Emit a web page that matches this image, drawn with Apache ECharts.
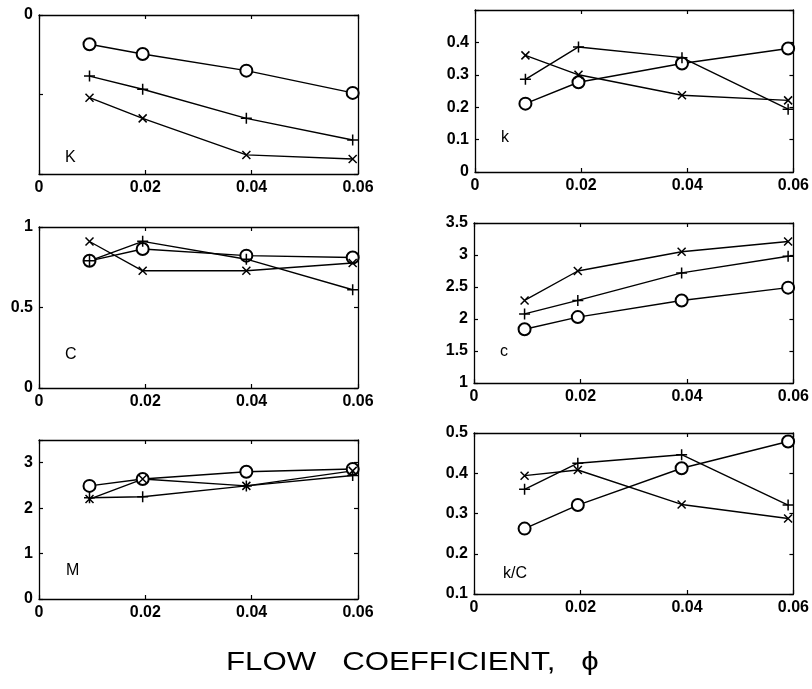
<!DOCTYPE html>
<html>
<head>
<meta charset="utf-8">
<script src="https://cdn.jsdelivr.net/npm/echarts@6/dist/echarts.min.js"></script>
<style>
  html, body { margin: 0; padding: 0; background: #fff; }
  #main { width: 812px; height: 689px; }
</style>
</head>
<body>
<div id="main"></div>
<script>
// flow coefficient values (x positions of the measurements)
const phi = [0.0095, 0.0195, 0.039, 0.059];
const xTicks = ["0", "0.02", "0.04", "0.06"];

// K
const K_o = [-0.184, -0.245, -0.35, -0.49];
const K_plus = [-0.384, -0.467, -0.65, -0.786];
const K_x = [-0.52, -0.65, -0.88, -0.906];
// k
const k_o = [0.211, 0.277, 0.335, 0.381];
const k_plus = [0.286, 0.386, 0.353, 0.194];
const k_x = [0.36, 0.30, 0.237, 0.221];
// C
const C_o = [0.79, 0.863, 0.822, 0.811];
const C_plus = [0.79, 0.911, 0.80, 0.61];
const C_x = [0.91, 0.728, 0.728, 0.776];
// c
const c_o = [1.84, 2.03, 2.29, 2.49];
const c_plus = [2.08, 2.29, 2.72, 2.98];
const c_x = [2.29, 2.75, 3.05, 3.21];
// M
const M_o = [2.49, 2.64, 2.80, 2.86];
const M_plus = [2.23, 2.25, 2.49, 2.72];
const M_x = [2.20, 2.64, 2.49, 2.82];
// k/C
const kC_o = [0.2625, 0.321, 0.4125, 0.479];
const kC_plus = [0.36, 0.425, 0.446, 0.321];
const kC_x = [0.394, 0.408, 0.3225, 0.2875];

const panels = [
  { label: "K", grid: { left: 39, top: 15, width: 319, height: 159 }, min: -1, max: 0, interval: 0.5,
    show: v => v === 0 ? "0" : "", data: [K_o, K_plus, K_x] },
  { label: "k", grid: { left: 475, top: 10, width: 320, height: 162 }, min: 0, max: 0.5, interval: 0.1,
    show: v => v > 0.45 ? "" : (v === 0 ? "0" : v.toFixed(1)), data: [k_o, k_plus, k_x] },
  { label: "C", grid: { left: 39, top: 227, width: 319, height: 161 }, min: 0, max: 1, interval: 0.5,
    show: v => String(v), data: [C_o, C_plus, C_x] },
  { label: "c", grid: { left: 474, top: 223, width: 321, height: 160 }, min: 1, max: 3.5, interval: 0.5,
    show: v => String(v), data: [c_o, c_plus, c_x] },
  { label: "M", grid: { left: 39, top: 440, width: 319, height: 159 }, min: 0, max: 3.5, interval: 1,
    show: v => Number.isInteger(v) ? String(v) : "", data: [M_o, M_plus, M_x] },
  { label: "k/C", grid: { left: 474, top: 433, width: 321, height: 161 }, min: 0.1, max: 0.5, interval: 0.1,
    show: v => v.toFixed(1), data: [kC_o, kC_plus, kC_x] }
];

const labelPos = [[65, 150], [501, 130], [65, 347], [500, 344], [66, 563], [503, 566]];

const font = { color: "#000", fontFamily: "Liberation Sans, Arial, sans-serif", fontSize: 16, fontWeight: "bold" };

const symPlus = "path://M0,5 L10,5 M5,0 L5,10";
const symCross = "path://M0,0 L10,10 M10,0 L0,10";

let grid = [], xAxis = [], yAxis = [], series = [], graphic = [];

panels.forEach((p, i) => {
  grid.push(Object.assign({ show: false, containLabel: false }, p.grid));
  const axLine = { show: true, onZero: false, lineStyle: { color: "#000", width: 1.3 } };
  const tick = { show: true, inside: true, length: 4, lineStyle: { color: "#000", width: 1.2 } };
  xAxis.push({
    type: "value", gridIndex: i, min: 0, max: 0.06, interval: 0.02, position: "bottom",
    axisLine: axLine, axisTick: tick, splitLine: { show: false },
    axisLabel: Object.assign({ margin: 6, formatter: v => xTicks[Math.round(v / 0.02)] }, font)
  });
  xAxis.push({
    type: "value", gridIndex: i, min: 0, max: 0.06, interval: 0.02, position: "top",
    axisLine: axLine, axisTick: tick, splitLine: { show: false }, axisLabel: { show: false }
  });
  yAxis.push({
    type: "value", gridIndex: i, min: p.min, max: p.max, interval: p.interval, position: "left",
    axisLine: axLine, axisTick: tick, splitLine: { show: false },
    axisLabel: Object.assign({ margin: 6, formatter: p.show }, font)
  });
  yAxis.push({
    type: "value", gridIndex: i, min: p.min, max: p.max, interval: p.interval, position: "right",
    axisLine: axLine, axisTick: tick, splitLine: { show: false }, axisLabel: { show: false }
  });
  const syms = [
    { symbol: "emptyCircle", size: 12 },
    { symbol: symPlus, size: 11 },
    { symbol: symCross, size: 8 }
  ];
  p.data.forEach((vals, j) => {
    series.push({
      type: "line", xAxisIndex: 2 * i, yAxisIndex: 2 * i,
      data: phi.map((x, n) => [x, vals[n]]),
      symbol: syms[j].symbol, symbolSize: syms[j].size,
      showSymbol: true, animation: false,
      lineStyle: { color: "#000", width: 1.4 },
      itemStyle: { color: "#000", borderColor: "#000", borderWidth: 1.5 },
      emphasis: { disabled: true }
    });
  });
  graphic.push({
    type: "text", left: labelPos[i][0], top: labelPos[i][1],
    style: { text: p.label, fill: "#000", font: "16px Liberation Sans, Arial, sans-serif" }
  });
});

graphic.push({
  type: "text", x: 226, y: 650, scaleX: 1.2,
  style: { text: "FLOW   COEFFICIENT,   \u03d5", fill: "#000", font: "26px Liberation Sans, Arial, sans-serif" }
});

const chart = echarts.init(document.getElementById("main"), null, { renderer: "canvas" });
chart.setOption({
  animation: false,
  backgroundColor: "#fff",
  grid: grid, xAxis: xAxis, yAxis: yAxis, series: series, graphic: graphic
});
</script>
</body>
</html>
